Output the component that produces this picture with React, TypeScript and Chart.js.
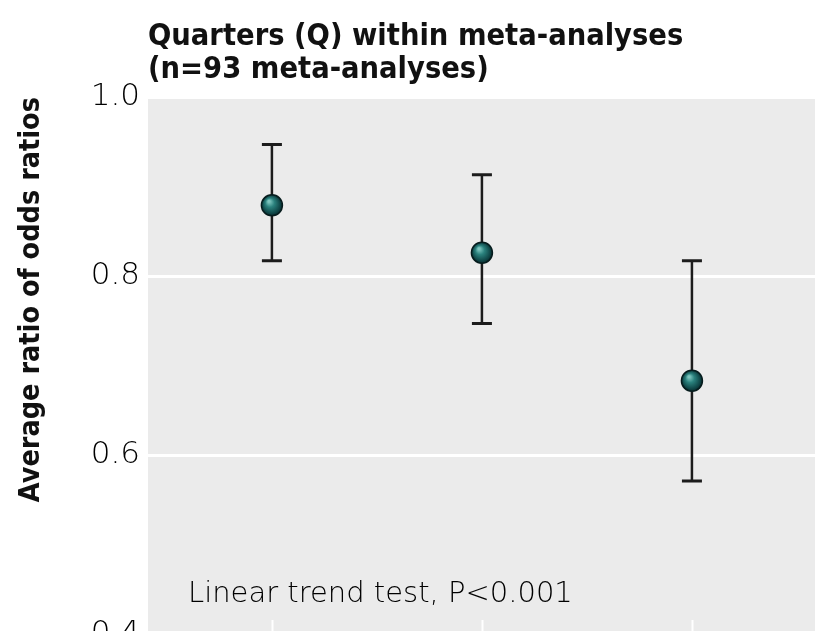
import { useEffect, useRef } from "react";
import { Chart, registerables } from "chart.js";

Chart.register(...registerables);

const titleLines = ["Quarters (Q) within meta-analyses", "(n=93 meta-analyses)"];
const yAxisTitle = "Average ratio of odds ratios";
const annotation = "Linear trend test, P<0.001";
const xPositions = [1, 2, 3];
const means = [0.879, 0.826, 0.683];
const lower = [0.817, 0.747, 0.571];
const upper = [0.947, 0.913, 0.817];
const yTicks = [0.4, 0.6, 0.8, 1.0];

const COND_FAMILY = "'DejaVu Sans Condensed', 'Liberation Sans Narrow', sans-serif";
const LIGHT_FAMILY = "'DejaVu Sans', sans-serif";

const bgPlugin = {
  id: "bg",
  beforeDraw(chart: any) {
    const { ctx, chartArea: a } = chart;
    ctx.save();
    ctx.fillStyle = "#ebebeb";
    ctx.fillRect(a.left, a.top, a.right - a.left, a.bottom - a.top);
    ctx.restore();
  },
};

const titlePlugin = {
  id: "customTitle",
  afterDraw(chart: any) {
    const { ctx, chartArea: a } = chart;
    ctx.save();
    ctx.font = `bold 30.5px ${COND_FAMILY}`;
    ctx.fillStyle = "#111";
    ctx.textAlign = "left";
    ctx.textBaseline = "middle";
    titleLines.forEach((t, i) => ctx.fillText(t, a.left, 37 + i * 33));
    ctx.font = `200 29px ${LIGHT_FAMILY}`;
    ctx.fillStyle = "#000";
    ctx.fillText(annotation, a.left + 40, 594);
    ctx.restore();
  },
};

const errorBarPlugin = {
  id: "errorBars",
  beforeDatasetsDraw(chart: any) {
    const { ctx, chartArea: a } = chart;
    const sx = chart.scales.x;
    const sy = chart.scales.y;
    ctx.save();
    ctx.strokeStyle = "#ffffff";
    ctx.lineWidth = 2;
    xPositions.forEach((xv) => {
      const px = Math.round(sx.getPixelForValue(xv)) + 0.5;
      ctx.beginPath();
      ctx.moveTo(px, a.bottom);
      ctx.lineTo(px, a.bottom - 14);
      ctx.stroke();
    });
    ctx.strokeStyle = "#1c1c1c";
    xPositions.forEach((xv, i) => {
      const px = sx.getPixelForValue(xv);
      const yl = sy.getPixelForValue(lower[i]);
      const yu = sy.getPixelForValue(upper[i]);
      ctx.lineWidth = 2.5;
      ctx.beginPath();
      ctx.moveTo(px, yl);
      ctx.lineTo(px, yu);
      ctx.stroke();
      ctx.lineWidth = 3;
      ctx.beginPath();
      ctx.moveTo(px - 10, yl);
      ctx.lineTo(px + 10, yl);
      ctx.moveTo(px - 10, yu);
      ctx.lineTo(px + 10, yu);
      ctx.stroke();
    });
    ctx.restore();
  },
};

export default function App() {
  const ref = useRef<HTMLCanvasElement | null>(null);
  useEffect(() => {
    if (!ref.current) return;
    const chart = new Chart(ref.current, {
      type: "scatter",
      data: {
        datasets: [
          {
            data: xPositions.map((x, i) => ({ x, y: means[i] })),
            pointRadius: 10.5,
            pointHoverRadius: 10.5,
            pointBorderColor: "#061c1d",
            pointBorderWidth: 1.5,
            pointBackgroundColor: (c: any) => {
              const ch = c.chart;
              if (!ch.chartArea || !c.parsed) return "#17605f";
              const px = ch.scales.x.getPixelForValue(c.parsed.x);
              const py = ch.scales.y.getPixelForValue(c.parsed.y);
              const g = ch.ctx.createRadialGradient(px - 3, py - 4, 1, px, py, 11);
              g.addColorStop(0, "#7cc4bd");
              g.addColorStop(0.35, "#2a817d");
              g.addColorStop(0.8, "#0f4546");
              g.addColorStop(1, "#072628");
              return g;
            },
          },
        ],
      },
      options: {
        animation: false,
        responsive: false,
        maintainAspectRatio: false,
        layout: { autoPadding: false, padding: { top: 97, bottom: 16, left: 0, right: 0 } },
        plugins: { legend: { display: false }, tooltip: { enabled: false }, title: { display: false } },
        scales: {
          x: { type: "linear", min: 0.41, max: 3.586, display: false },
          y: {
            type: "linear",
            min: yTicks[0],
            max: yTicks[yTicks.length - 1],
            afterBuildTicks: (s: any) => {
              s.ticks = yTicks.map((v) => ({ value: v }));
            },
            afterFit: (s: any) => {
              s.width = 148;
              s.paddingTop = 0;
              s.paddingBottom = 0;
            },
            border: { display: false },
            grid: { color: "#ffffff", lineWidth: 3, drawTicks: false },
            ticks: {
              padding: 8,
              color: "#000",
              font: { family: LIGHT_FAMILY, size: 31, weight: "200" as any },
              callback: (v: any) => Number(v).toFixed(1),
            },
            title: {
              display: true,
              text: yAxisTitle,
              align: "end",
              color: "#111",
              padding: { top: 14, bottom: 0 },
              font: { family: COND_FAMILY, size: 28.5, weight: "bold" },
            },
          },
        },
      },
      plugins: [bgPlugin, errorBarPlugin, titlePlugin],
    });
    return () => chart.destroy();
  }, []);
  return (
    <div style={{ position: "fixed", left: 0, top: 0, width: 815, height: 650 }}>
      <canvas ref={ref} width={815} height={650} style={{ width: 815, height: 650, display: "block" }} />
    </div>
  );
}
